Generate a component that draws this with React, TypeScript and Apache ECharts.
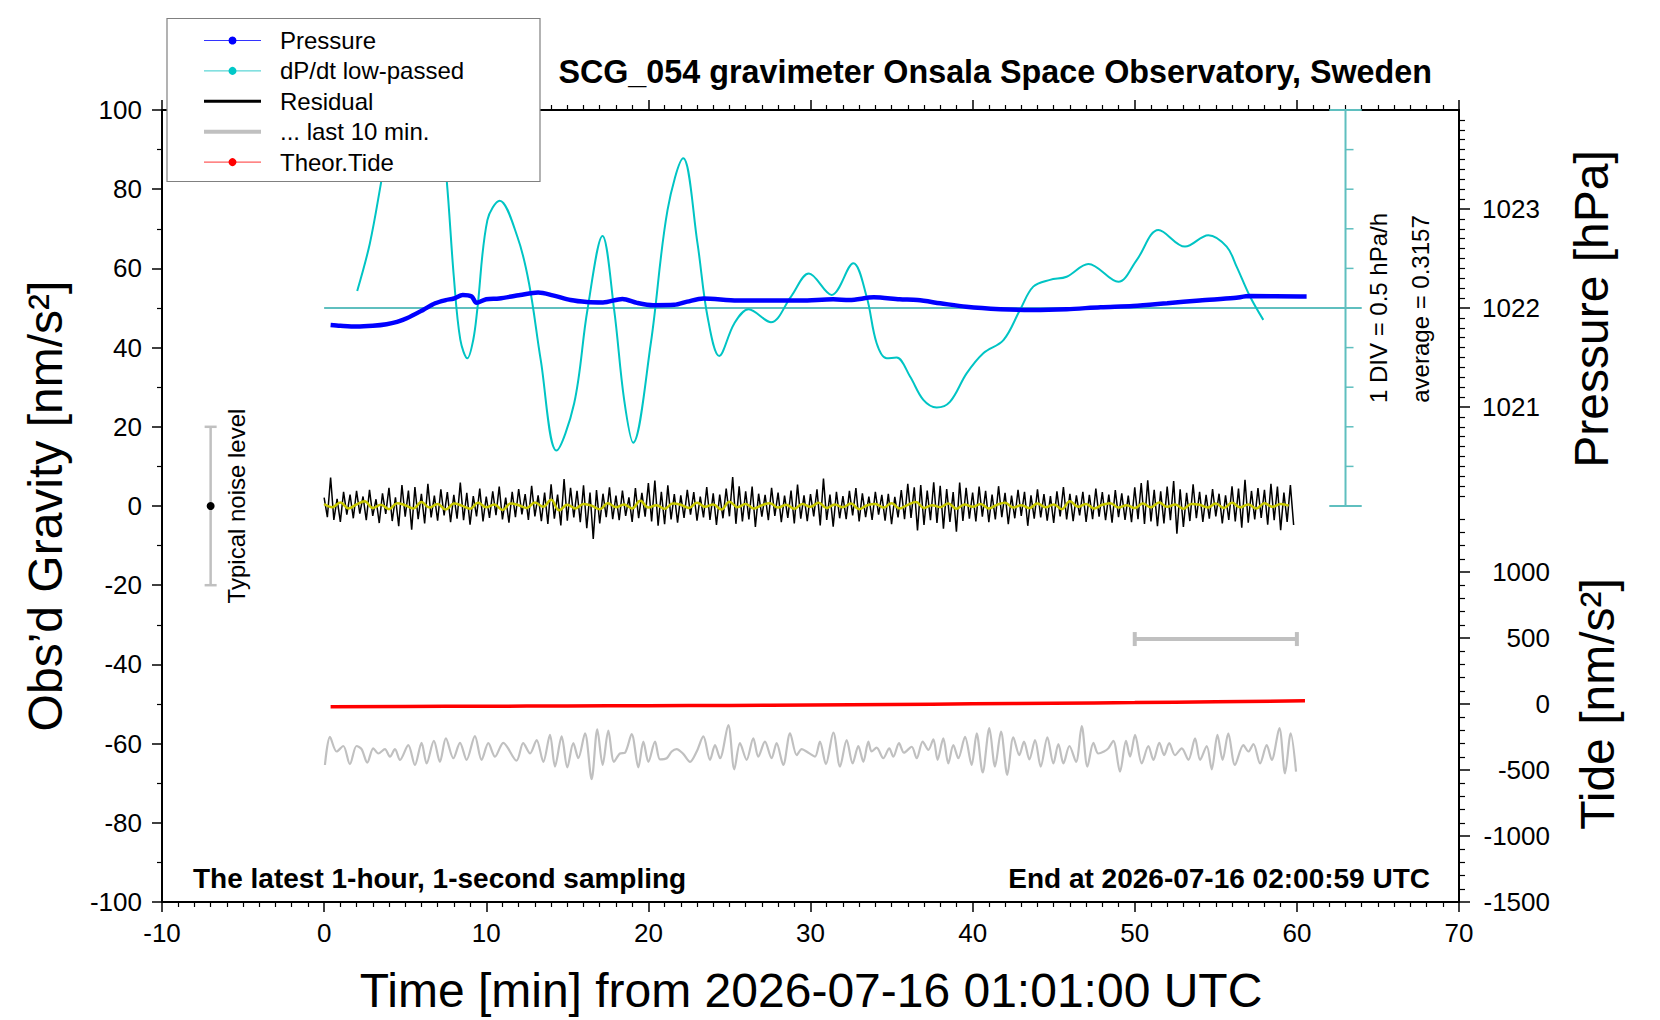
import React, { useEffect, useRef } from "react";
import * as echarts from "echarts";

const FONT = "'Liberation Sans', Arial, Helvetica, sans-serif";

// ---------------- data ----------------
// Pressure [hPa]
const pressureTime = [0.4, 1.0, 2.0, 3.0, 3.85, 4.5, 5.1, 6.1, 6.85, 7.5, 8.0, 8.55, 9.1, 9.4, 10.0, 10.8, 12.1, 13.2, 14.1, 15.2, 16.2, 17.2, 18.4, 19.3, 20.3, 21.6, 22.4, 23.4, 25.5, 27.5, 29.4, 31.4, 32.4, 33.9, 35.5, 36.6, 38.0, 39.6, 41.7, 43.7, 45.8, 47.9, 49.9, 52.0, 54.0, 56.1, 57.1, 60.2, 60.6];
const pressureHPa = [1021.828, 1021.82, 1021.812, 1021.82, 1021.836, 1021.86, 1021.896, 1021.98, 1022.048, 1022.08, 1022.096, 1022.132, 1022.116, 1022.052, 1022.088, 1022.096, 1022.132, 1022.156, 1022.128, 1022.08, 1022.06, 1022.056, 1022.092, 1022.052, 1022.028, 1022.032, 1022.064, 1022.096, 1022.076, 1022.076, 1022.076, 1022.088, 1022.08, 1022.108, 1022.088, 1022.08, 1022.048, 1022.012, 1021.988, 1021.98, 1021.988, 1022.008, 1022.02, 1022.048, 1022.076, 1022.1, 1022.12, 1022.116, 1022.116];

// dP/dt low-passed, in plot units (average level = 50, 1 DIV = 10 units = 0.5 hPa/h)
const dpdtTime = [2.04, 2.82, 3.54, 4.3, 5.3, 6.4, 7.2, 7.56, 8.0, 8.4, 8.84, 9.2, 9.45, 10.07, 10.83, 11.92, 12.64, 13.36, 14.33, 15.42, 16.24, 17.17, 17.89, 18.5, 19.06, 20.15, 21.18, 22.15, 23.03, 23.65, 24.37, 25.3, 26.18, 27.56, 28.8, 29.9, 31.3, 32.64, 33.46, 34.08, 34.7, 35.31, 36.14, 36.96, 37.78, 38.6, 39.63, 40.66, 41.9, 42.92, 43.74, 44.77, 45.8, 47.14, 48.99, 50.12, 51.46, 53.1, 54.54, 55.67, 56.29, 57.11, 57.93];
const dpdtScaled = [54.3, 66.3, 82.3, 100, 112, 108, 95, 82.3, 57.9, 42, 37.3, 42, 49.7, 72.2, 77.1, 68, 56.2, 36.9, 14.0, 25.9, 49.5, 68.2, 49.5, 27, 16.0, 41.1, 74.7, 87.8, 66.3, 47.8, 37.9, 46.1, 49.7, 46.4, 52.9, 58.7, 53.3, 61.3, 52.9, 41.1, 37.3, 37.5, 32.7, 26.8, 24.9, 26.3, 33.5, 38.6, 41.9, 49.5, 55.4, 57.1, 57.9, 61.1, 56.6, 62.1, 69.7, 65.5, 68.4, 65.5, 60.4, 52.9, 47.0];
const dpdtAverageLevel = 50;
const dpdtLineSpan = [0, 64];
const divScaleX = 63;
const divScaleCap = [62, 64];
const divScaleRange = [0, 100];
const divLevels = [10, 20, 30, 40, 60, 70, 80, 90];

// Residual [nm/s^2], 12-s steps
const residualStep = 0.2;
const residual = [
  2.1, -2.8, 7.2, -3.5, 1.8, -4.0, 3.6, -2.2, 2.9, -3.1,
  3.8, -1.9, 2.4, -3.6, 4.1, -2.5, 1.7, -4.3, 3.2, -2.0,
  4.6, -3.8, 2.2, -5.1, 5.3, -2.7, 3.9, -6.0, 4.8, -3.3,
  3.1, -4.4, 5.6, -2.9, 2.6, -3.7, 4.2, -2.4, 3.5, -4.1,
  2.8, -3.2, 5.9, -3.6, 3.3, -4.7, 2.5, -2.6, 4.4, -3.9,
  2.4, -3.0, 3.7, -2.3, 4.9, -3.4, 2.1, -4.2, 3.6, -2.8,
  4.3, -2.1, 3.0, -3.5, 5.1, -2.6, 2.7, -3.8, 3.4, -4.5,
  5.5, -3.2, 2.9, -4.9, 6.8, -3.7, 4.6, -2.9, 3.8, -4.1,
  5.2, -5.6, 3.4, -8.3, 4.0, -4.4, 3.1, -2.8, 4.7, -3.3,
  2.6, -3.6, 3.9, -2.5, 2.2, -4.0, 4.5, -3.1, 3.3, -2.7,
  5.8, -3.9, 6.4, -5.0, 3.6, -4.6, 5.2, -3.4, 3.0, -4.2,
  2.7, -3.0, 4.1, -2.2, 3.5, -3.7, 2.4, -2.9, 4.8, -3.5,
  3.2, -4.8, 2.9, -3.1, 4.4, -2.6, 7.3, -4.5, 5.0, -3.9,
  3.7, -3.4, 4.9, -5.3, 3.1, -2.7, 2.8, -3.6, 4.6, -2.5,
  3.4, -4.1, 2.6, -3.0, 3.9, -4.4, 5.4, -3.2, 2.7, -3.8,
  3.0, -2.6, 4.2, -4.9, 6.9, -3.5, 2.9, -5.2, 3.6, -3.1,
  2.5, -3.3, 3.8, -2.4, 4.5, -3.9, 3.2, -2.8, 2.4, -3.5,
  3.6, -2.2, 2.8, -3.7, 3.1, -4.6, 2.3, -2.9, 4.0, -3.3,
  5.6, -3.0, 4.7, -6.2, 5.3, -4.8, 3.9, -3.6, 6.0, -4.3,
  5.1, -5.7, 4.3, -4.0, 3.5, -6.5, 5.9, -3.8, 4.6, -3.2,
  3.4, -3.9, 4.9, -2.7, 3.8, -4.1, 2.9, -3.4, 5.0, -2.8,
  3.3, -4.6, 2.6, -3.1, 4.1, -2.5, 3.6, -5.0, 2.7, -3.2,
  4.2, -2.9, 3.0, -3.7, 2.5, -4.3, 3.7, -2.6, 4.8, -3.4,
  3.1, -3.8, 2.7, -2.4, 3.6, -4.0, 2.8, -3.3, 4.4, -2.7,
  3.5, -3.6, 2.9, -4.2, 4.0, -2.8, 3.2, -3.5, 2.6, -4.1,
  4.7, -3.3, 5.8, -4.5, 6.5, -3.9, 4.1, -5.1, 3.7, -4.4,
  4.9, -3.6, 6.3, -7.0, 4.2, -5.3, 3.3, -3.8, 5.5, -3.1,
  3.6, -4.0, 2.8, -3.2, 4.3, -2.6, 3.1, -4.4, 2.7, -3.5,
  5.0, -3.9, 4.4, -5.5, 6.6, -4.2, 3.8, -3.4, 4.5, -3.0,
  4.1, -4.7, 5.6, -3.6, 4.9, -6.1, 3.4, -4.0, 5.3, -4.8,
];

// Smoothed residual (yellow), 30-s steps
const smoothStep = 0.5;
const residualSmooth = [
  0.5, -0.3, 0.9, -0.6, 0.4, 1.2, -0.5, 0.3, -0.8, 0.7,
  0.2, -0.6, 1.0, -0.4, 0.5, -0.9, 0.6, 0.1, -0.7, 0.8,
  -0.3, 0.4, -1.0, 0.6, 0.2, -0.5, 0.9, -0.2, 1.6, -1.1,
  0.3, -0.6, 0.5, 0.1, -0.8, 0.7, -0.3, 0.4, -0.6, 1.3,
  -0.4, 0.2, -0.7, 0.6, 0.3, -0.5, 0.8, -0.2, 0.4, -0.9,
  1.1, -0.3, 0.5, -0.6, 0.2, 0.7, -0.4, 0.3, -0.7, 0.5,
  -0.2, 0.8, -0.5, 0.4, -0.3, 0.6, -0.8, 0.2, 0.5, -0.4,
  0.7, -0.6, 0.3, 1.0, -0.5, 0.2, -0.3, 0.6, -0.7, 0.4,
  -0.2, 0.5, -0.6, 0.3, 0.8, -0.4, 0.2, -0.5, 0.6, -0.3,
  0.4, -0.8, 1.2, -0.2, 0.5, -0.6, 0.3, 0.7, -0.4, 0.2,
  -0.5, 0.6, -0.3, 0.9, -0.2, 0.4, -0.7, 0.5, 0.3, -0.4,
  0.6, -0.5, 0.8, -0.3, 0.4, -0.6, 0.7, -0.2, 0.5, 0.1,
];

// "... last 10 min." (gray)
const last10Time = [0.05, 0.36, 0.77, 1.18, 1.59, 2.0, 2.31, 2.66, 3.03, 3.34, 3.75, 4.06, 4.37, 4.68, 5.19, 5.6, 6.01, 6.32, 6.77, 7.14, 7.51, 7.97, 8.38, 8.79, 9.3, 9.71, 10.13, 10.54, 11.05, 11.87, 12.28, 12.7, 13.11, 13.52, 13.93, 14.24, 14.65, 15.0, 15.37, 15.68, 16.09, 16.5, 16.85, 17.18, 17.53, 17.88, 18.25, 18.56, 18.97, 19.38, 19.69, 20.0, 20.41, 20.72, 21.13, 21.44, 21.74, 22.15, 22.57, 22.98, 23.39, 23.8, 24.11, 24.42, 24.93, 25.3, 25.65, 26.06, 26.47, 26.78, 27.19, 27.6, 27.91, 28.32, 28.74, 29.15, 29.46, 29.87, 30.28, 30.58, 30.95, 31.41, 31.82, 32.23, 32.6, 32.95, 33.26, 33.57, 33.77, 34.08, 34.49, 34.86, 35.11, 35.46, 35.77, 36.24, 36.55, 36.92, 37.27, 37.58, 37.84, 38.19, 38.5, 38.81, 39.12, 39.53, 39.94, 40.25, 40.62, 41.03, 41.38, 41.75, 42.14, 42.51, 42.88, 43.17, 43.5, 43.85, 44.2, 44.61, 44.98, 45.29, 45.6, 45.97, 46.38, 46.73, 47.08, 47.45, 47.75, 48.1, 48.37, 48.68, 49.09, 49.46, 49.71, 50.02, 50.43, 50.84, 51.15, 51.52, 51.81, 52.13, 52.48, 52.9, 53.31, 53.72, 54.03, 54.44, 54.75, 55.1, 55.42, 55.77, 56.18, 56.7, 57.01, 57.32, 57.73, 58.14, 58.45, 58.92, 59.27, 59.62, 59.95];
const last10Value = [-65.4, -58.3, -62.0, -60.6, -65.2, -60.6, -61.4, -64.8, -61.2, -62.5, -61.4, -63.3, -61.4, -64.1, -60.4, -65.4, -59.8, -65.0, -59.3, -64.6, -58.7, -63.7, -59.8, -64.1, -58.1, -64.1, -59.9, -63.3, -59.8, -64.3, -59.9, -62.5, -59.1, -64.6, -57.8, -65.8, -58.2, -66.0, -59.9, -63.7, -57.4, -69.0, -56.4, -65.4, -56.7, -64.6, -62.5, -62.3, -57.6, -66.0, -59.5, -64.6, -59.5, -64.0, -63.7, -62.0, -61.4, -62.6, -64.6, -62.0, -58.2, -64.1, -60.4, -63.7, -55.3, -66.5, -59.9, -64.1, -58.7, -63.3, -59.5, -63.7, -59.9, -65.4, -57.4, -62.9, -61.4, -62.3, -63.3, -59.5, -65.2, -57.2, -65.8, -59.1, -65.0, -60.6, -64.6, -59.5, -62.0, -61.0, -63.7, -61.2, -63.3, -59.9, -62.3, -60.8, -63.7, -59.5, -61.6, -58.9, -64.1, -58.7, -65.0, -60.4, -63.7, -58.3, -65.4, -57.4, -67.3, -56.1, -65.8, -57.0, -67.9, -58.4, -62.9, -59.5, -64.0, -59.1, -65.8, -58.4, -65.0, -60.1, -65.0, -60.6, -64.6, -55.6, -65.8, -59.8, -62.5, -62.0, -61.2, -59.3, -67.1, -59.3, -63.3, -57.8, -65.0, -60.6, -64.1, -59.8, -62.9, -59.9, -62.9, -61.2, -64.1, -58.7, -64.1, -60.6, -66.5, -57.8, -64.1, -57.4, -65.4, -60.4, -62.0, -60.1, -65.0, -60.4, -64.1, -56.1, -67.5, -57.4, -67.1];
const last10Span = [50, 60];
const last10BarLevel = -33.6;

// Theoretical tide [nm/s^2]
const tideTime = [0.4, 5, 10, 15, 20, 25, 30, 35, 40, 45, 50, 55, 60.5];
const tideValue = [-21, -19, -17, -15, -13, -10.5, -7, -3, 1, 6, 11, 17, 24];

// Typical noise level marker
const noiseX = -7;
const noiseRange = [-20, 20];
const noiseCenter = 0;

// Tick labels
const pressureLabels = [1021, 1022, 1023];
const pressureMinorRange = [1020.1, 1023.9];
const tideLabels = [-1500, -1000, -500, 0, 500, 1000];
const tideMinorRange = [-1400, 1400];

const legendItems = [
  { name: "Pressure", color: "#3333ff", width: 1, dot: "#0000ff" },
  { name: "dP/dt low-passed", color: "#33cccc", width: 1, dot: "#00c8c8" },
  { name: "Residual", color: "#000000", width: 3, dot: null },
  { name: "... last 10 min.", color: "#c0c0c0", width: 4, dot: null },
  { name: "Theor.Tide", color: "#ff3333", width: 1, dot: "#ff0000" },
];

// ---------------- helpers ----------------
const zip = (ts: number[], vs: number[]) => ts.map((t, i) => [t, vs[i]]);
const stepSeries = (step: number, vs: number[]) => vs.map((v, i) => [i * step, v]);
const minorList = (from: number, to: number, step: number, skip: number[]) => {
  const out: number[] = [];
  const n = Math.round((to - from) / step);
  for (let i = 0; i <= n; i++) {
    const v = Math.round((from + i * step) * 1000) / 1000;
    if (!skip.some((s) => Math.abs(s - v) < 1e-6)) out.push(v);
  }
  return out;
};
const plain = (v: number) => String(v);

const TEAL = "#5fbfbf";
const GRAY = "#c0c0c0";

function txt(text: string, x: number, y: number, size: number, extra: any = {}) {
  return {
    type: "text",
    x,
    y,
    z: 20,
    rotation: extra.rotation || 0,
    silent: true,
    style: {
      text,
      fontSize: size,
      fontFamily: FONT,
      fontWeight: extra.bold ? "bold" : "normal",
      fill: "#000",
      align: extra.align || "center",
      verticalAlign: "middle",
    },
  };
}

export default function App() {
  const ref = useRef<HTMLDivElement>(null);

  useEffect(() => {
    if (!ref.current) return;
    const chart = echarts.init(ref.current, undefined, { renderer: "svg" });

    const tickLbl = { color: "#000", fontSize: 26, fontFamily: FONT, formatter: plain };
    const majorTick = (len: number) => ({ show: true, inside: false, length: len, lineStyle: { color: "#000", width: 1.5 } });
    const minorTickStyle = { color: "#000", width: 1.2 };

    const xBase = (pos: string, labels: boolean) => ({
      type: "value",
      position: pos,
      min: -10,
      max: 70,
      interval: 10,
      axisLine: { show: true, onZero: false, lineStyle: { color: "#000", width: 2 } },
      axisTick: majorTick(10),
      minorTick: { show: true, splitNumber: 10, length: 5, lineStyle: minorTickStyle },
      axisLabel: labels ? { ...tickLbl, margin: 18 } : { show: false },
      splitLine: { show: false },
      minorSplitLine: { show: false },
    });

    const pMinor = minorList(pressureMinorRange[0], pressureMinorRange[1], 0.1, pressureLabels);
    const tMinor = minorList(tideMinorRange[0], tideMinorRange[1], 100, tideLabels);

    const legendGraphics: any[] = [
      {
        type: "rect",
        z: 30,
        shape: { x: 167, y: 18.5, width: 373, height: 163 },
        style: { fill: "#fff", stroke: "#808080", lineWidth: 1.2 },
      },
    ];
    legendItems.forEach((it, i) => {
      const y = 40.5 + i * 30.4;
      legendGraphics.push({
        type: "line",
        z: 31,
        shape: { x1: 204, y1: y, x2: 261, y2: y },
        style: { stroke: it.color, lineWidth: it.width },
      });
      if (it.dot) {
        legendGraphics.push({
          type: "circle",
          z: 32,
          shape: { cx: 232.5, cy: y, r: 4 },
          style: { fill: it.dot },
        });
      }
      legendGraphics.push({
        type: "text",
        z: 32,
        x: 280,
        y,
        style: { text: it.name, fontSize: 24, fontFamily: FONT, fill: "#000", align: "left", verticalAlign: "middle" },
      });
    });

    const option: any = {
      animation: false,
      backgroundColor: "#fff",
      grid: { left: 162, right: 201, top: 110, bottom: 118, containLabel: false },
      xAxis: [xBase("bottom", true), xBase("top", false)],
      yAxis: [
        {
          type: "value",
          position: "left",
          min: -100,
          max: 100,
          interval: 20,
          axisLine: { show: true, onZero: false, lineStyle: { color: "#000", width: 2 } },
          axisTick: majorTick(10),
          minorTick: { show: true, splitNumber: 2, length: 5, lineStyle: minorTickStyle },
          axisLabel: { ...tickLbl, margin: 20 },
          splitLine: { show: false },
        },
        {
          type: "value",
          position: "right",
          min: 1016,
          max: 1024,
          interval: 1,
          axisLine: { show: true, onZero: false, lineStyle: { color: "#000", width: 2 } },
          axisTick: { ...majorTick(11), customValues: pressureLabels },
          axisLabel: { ...tickLbl, margin: 23, customValues: pressureLabels },
          splitLine: { show: false },
        },
        {
          type: "value",
          position: "right",
          min: 1016,
          max: 1024,
          interval: 1,
          axisLine: { show: false, onZero: false },
          axisTick: { show: true, inside: false, length: 6, lineStyle: minorTickStyle, customValues: pMinor },
          axisLabel: { show: false },
          splitLine: { show: false },
        },
        {
          type: "value",
          position: "right",
          min: -1500,
          max: 4500,
          interval: 500,
          axisLine: { show: false, onZero: false },
          axisTick: { ...majorTick(11), customValues: tideLabels },
          axisLabel: { ...tickLbl, margin: 91, align: "right", customValues: tideLabels },
          splitLine: { show: false },
        },
        {
          type: "value",
          position: "right",
          min: -1500,
          max: 4500,
          interval: 500,
          axisLine: { show: false, onZero: false },
          axisTick: { show: true, inside: false, length: 6, lineStyle: minorTickStyle, customValues: tMinor },
          axisLabel: { show: false },
          splitLine: { show: false },
        },
      ],
      series: [
        {
          name: "dP/dt average",
          type: "line",
          yAxisIndex: 0,
          data: [
            [dpdtLineSpan[0], dpdtAverageLevel],
            [dpdtLineSpan[1], dpdtAverageLevel],
          ],
          symbol: "none",
          silent: true,
          clip: false,
          lineStyle: { color: TEAL, width: 2 },
        },
        {
          name: "DIV scale",
          type: "custom",
          yAxisIndex: 0,
          data: [0],
          clip: false,
          silent: true,
          renderItem: (_p: any, api: any) => {
            const top = api.coord([divScaleX, divScaleRange[1]]);
            const bot = api.coord([divScaleX, divScaleRange[0]]);
            const capL = api.coord([divScaleCap[0], 0])[0];
            const capR = api.coord([divScaleCap[1], 0])[0];
            const st = { stroke: TEAL, lineWidth: 2 };
            const children: any[] = [
              { type: "line", shape: { x1: top[0], y1: top[1], x2: bot[0], y2: bot[1] }, style: st },
              { type: "line", shape: { x1: capL, y1: top[1], x2: capR, y2: top[1] }, style: st },
              { type: "line", shape: { x1: capL, y1: bot[1], x2: capR, y2: bot[1] }, style: st },
            ];
            divLevels.forEach((lv) => {
              const p = api.coord([divScaleX, lv]);
              children.push({ type: "line", shape: { x1: p[0], y1: p[1], x2: p[0] + 8, y2: p[1] }, style: { stroke: TEAL, lineWidth: 1.5 } });
            });
            return { type: "group", children };
          },
        },
        {
          name: "dP/dt low-passed",
          type: "line",
          yAxisIndex: 0,
          data: zip(dpdtTime, dpdtScaled),
          symbol: "none",
          smooth: 0.35,
          silent: true,
          lineStyle: { color: "#00c4c4", width: 2 },
        },
        {
          name: "Pressure",
          type: "line",
          yAxisIndex: 1,
          data: zip(pressureTime, pressureHPa),
          symbol: "none",
          smooth: 0.3,
          silent: true,
          lineStyle: { color: "#0000ff", width: 4.5 },
        },
        {
          name: "Residual",
          type: "line",
          yAxisIndex: 0,
          data: stepSeries(residualStep, residual),
          symbol: "none",
          silent: true,
          lineStyle: { color: "#000", width: 1.5 },
        },
        {
          name: "Residual smoothed",
          type: "line",
          yAxisIndex: 0,
          data: stepSeries(smoothStep, residualSmooth),
          symbol: "none",
          smooth: 0.4,
          silent: true,
          lineStyle: { color: "#c8c800", width: 2.5 },
        },
        {
          name: "... last 10 min.",
          type: "line",
          yAxisIndex: 0,
          data: zip(last10Time, last10Value),
          symbol: "none",
          smooth: 0.3,
          silent: true,
          lineStyle: { color: GRAY, width: 2.2 },
        },
        {
          name: "Theor.Tide",
          type: "line",
          yAxisIndex: 3,
          data: zip(tideTime, tideValue),
          symbol: "none",
          smooth: true,
          silent: true,
          lineStyle: { color: "#ff0000", width: 3.5 },
        },
        {
          name: "markers",
          type: "custom",
          yAxisIndex: 0,
          data: [0],
          clip: false,
          silent: true,
          renderItem: (_p: any, api: any) => {
            const nTop = api.coord([noiseX, noiseRange[1]]);
            const nBot = api.coord([noiseX, noiseRange[0]]);
            const nMid = api.coord([noiseX, noiseCenter]);
            const bL = api.coord([last10Span[0], last10BarLevel]);
            const bR = api.coord([last10Span[1], last10BarLevel]);
            const g = { stroke: GRAY, lineWidth: 2.5 };
            const b = { stroke: GRAY, lineWidth: 4 };
            return {
              type: "group",
              children: [
                { type: "line", shape: { x1: nTop[0], y1: nTop[1], x2: nBot[0], y2: nBot[1] }, style: g },
                { type: "line", shape: { x1: nTop[0] - 6, y1: nTop[1], x2: nTop[0] + 6, y2: nTop[1] }, style: g },
                { type: "line", shape: { x1: nBot[0] - 6, y1: nBot[1], x2: nBot[0] + 6, y2: nBot[1] }, style: g },
                { type: "circle", shape: { cx: nMid[0], cy: nMid[1], r: 4 }, style: { fill: "#000" } },
                { type: "line", shape: { x1: bL[0], y1: bL[1], x2: bR[0], y2: bR[1] }, style: b },
                { type: "line", shape: { x1: bL[0], y1: bL[1] - 7, x2: bL[0], y2: bL[1] + 7 }, style: b },
                { type: "line", shape: { x1: bR[0], y1: bR[1] - 7, x2: bR[0], y2: bR[1] + 7 }, style: b },
              ],
            };
          },
        },
      ],
      graphic: {
        elements: [
          ...legendGraphics,
          txt("SCG_054 gravimeter Onsala Space Observatory, Sweden", 1432, 72, 32.3, { bold: true, align: "right" }),
          txt("The latest 1-hour, 1-second sampling", 193, 878, 28, { bold: true, align: "left" }),
          txt("End at 2026-07-16 02:00:59 UTC", 1430, 878, 28, { bold: true, align: "right" }),
          txt("Time [min] from 2026-07-16 01:01:00 UTC", 811, 990, 48),
          txt("Obs\u2019d Gravity [nm/s\u00b2]", 45, 506, 48, { rotation: Math.PI / 2 }),
          txt("Pressure [hPa]", 1591, 309, 48, { rotation: Math.PI / 2 }),
          txt("Tide [nm/s\u00b2]", 1597, 704, 48, { rotation: Math.PI / 2 }),
          txt("1 DIV = 0.5 hPa/h", 1378.5, 308, 24, { rotation: Math.PI / 2 }),
          txt("average = 0.3157", 1420, 309, 24, { rotation: Math.PI / 2 }),
          txt("Typical noise level", 236, 506, 24, { rotation: Math.PI / 2 }),
        ],
      },
    };

    chart.setOption(option);
    return () => chart.dispose();
  }, []);

  return (
    <div
      ref={ref}
      style={{ position: "absolute", left: 0, top: 0, width: 1660, height: 1020, background: "#fff" }}
    />
  );
}
